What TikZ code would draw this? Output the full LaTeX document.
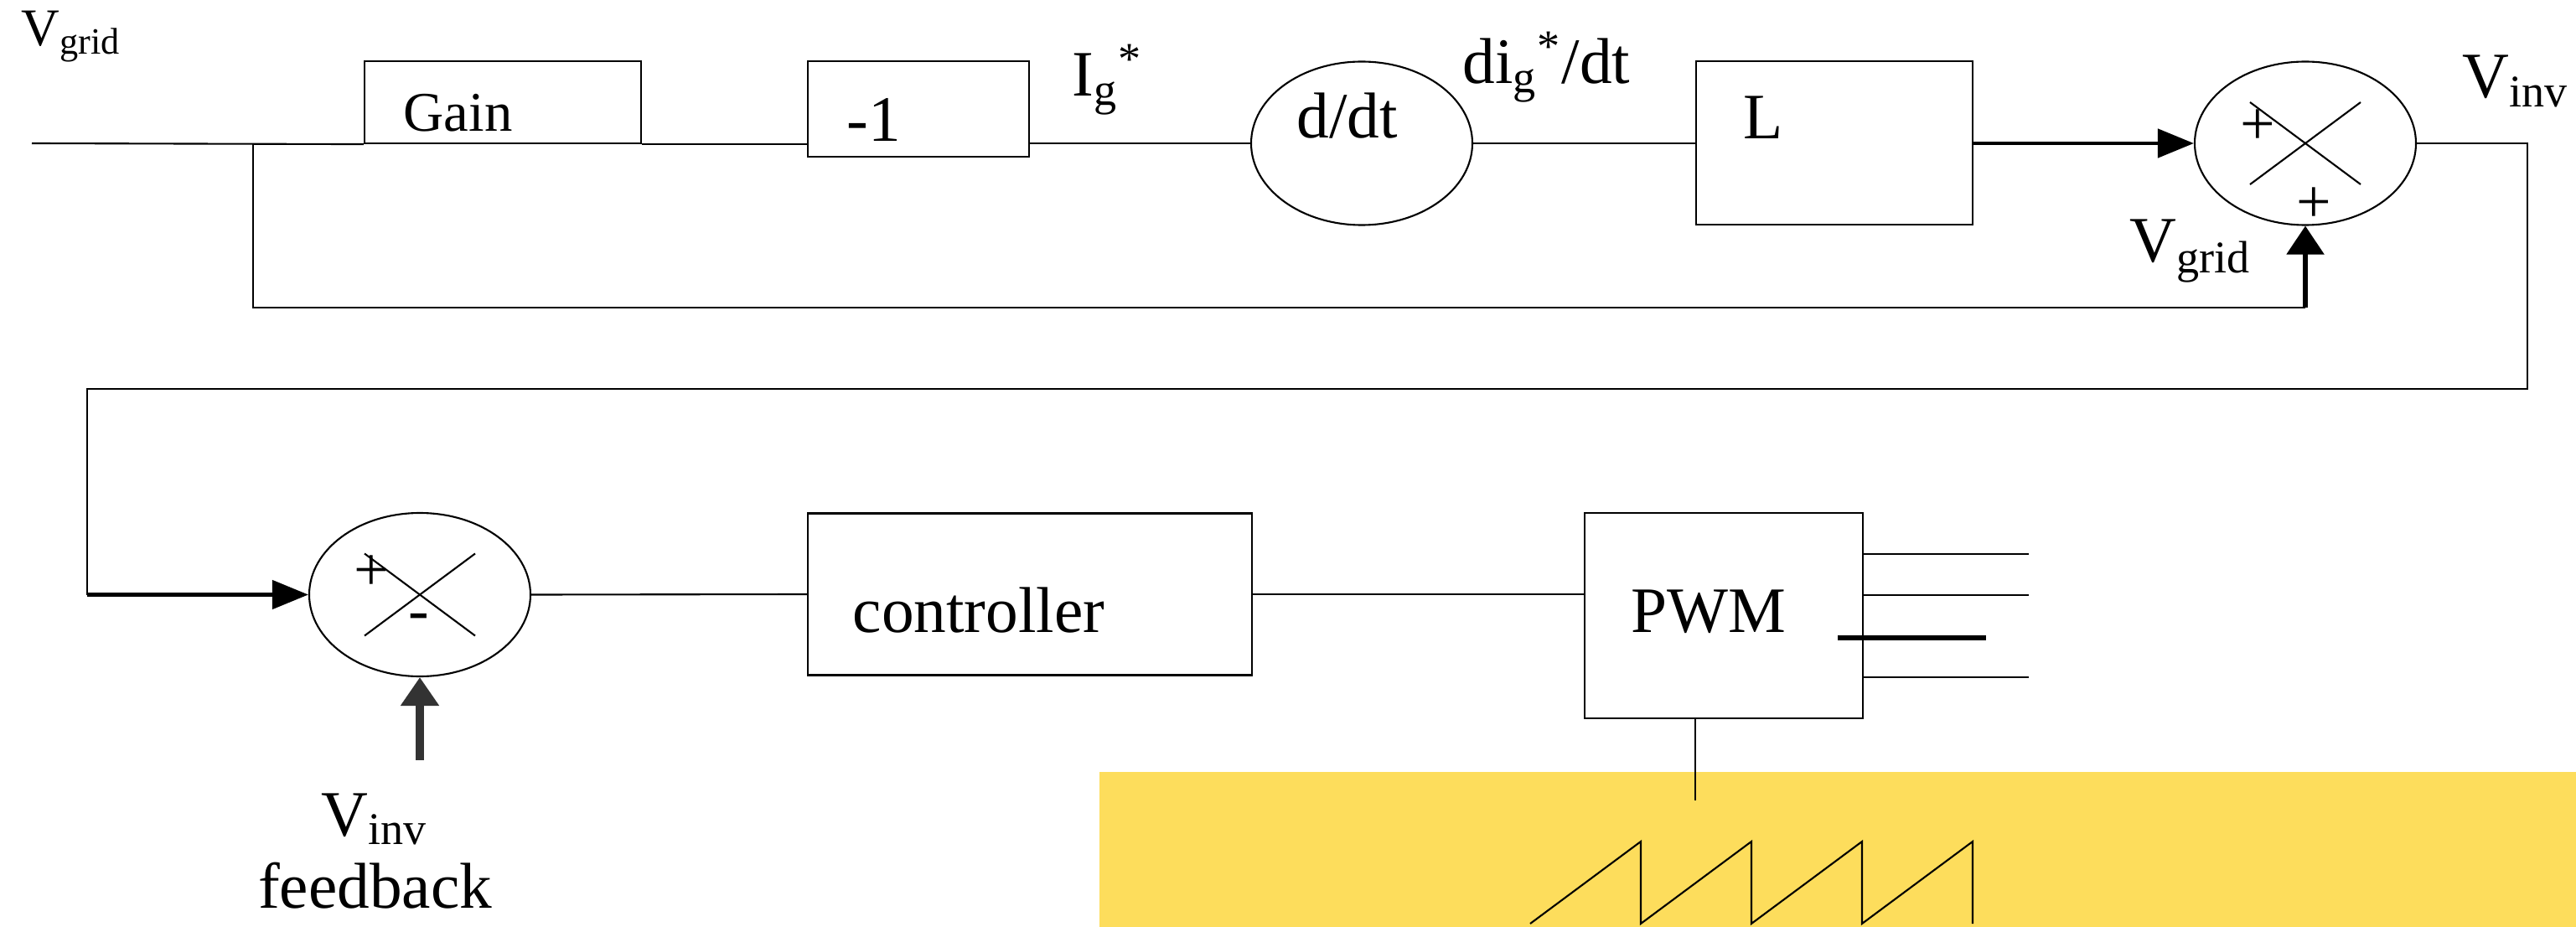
\documentclass[tikz,border=0pt]{standalone}
\usepackage{fontspec}
\setmainfont{Liberation Serif}
\usetikzlibrary{shapes.geometric,arrows.meta}

\begin{document}
\begin{tikzpicture}[
  wire/.style={line width=0.6pt},
  blk/.style={draw,wire,inner sep=0},
  summer/.style={draw,wire,ellipse,minimum width=2.64cm,minimum height=1.95cm,inner sep=0},
  txt/.style={inner sep=0,anchor=base west,font=\fontsize{22}{30}\selectfont},
  sign/.style={inner sep=0,font=\fontsize{21}{24}\selectfont},
  flowarrow/.style={line width=1.3pt,-{Triangle[length=4.3mm,width=3.4mm]}},
  uparrow/.style={line width=1.6pt,-{Triangle[length=3.4mm,width=4.4mm]}}]
\definecolor{sawyellow}{HTML}{FDDD5C}
\useasboundingbox (0,0) rectangle (30.74,-11.06);
\fill[sawyellow] (13.12,-9.21) rectangle (30.74,-11.06);
% blocks
\node[blk,minimum width=3.30cm,minimum height=0.98cm] (gain) at (6.00,-1.22) {};
\node[blk,minimum width=2.64cm,minimum height=1.14cm] (neg) at (10.96,-1.30) {};
\node[summer] (deriv) at (16.25,-1.71) {};
\node[blk,minimum width=3.30cm,minimum height=1.95cm] (ind) at (21.89,-1.705) {};
\node[summer] (sumA) at (27.51,-1.71) {};
\node[summer] (sumB) at (5.01,-7.095) {};
\node[blk,minimum width=5.30cm,minimum height=1.93cm] (ctrl) at (12.29,-7.09) {};
\node[blk,minimum width=3.32cm,minimum height=2.45cm] (pwm) at (20.57,-7.345) {};
% texts
\node[txt,font=\fontsize{18}{22}\selectfont] (vgridin) at (0.25,-0.55) {V\textsubscript{grid}};
\node[txt,font=\fontsize{19}{22}\selectfont] (gaintxt) at (4.81,-1.57) {Gain};
\node[txt] (negtxt) at (10.10,-1.69) {-1};
\node[txt] (igref) at (12.79,-1.15) {I\textsubscript{g}\textsuperscript{*}};
\node[txt] (dtxt) at (15.47,-1.65) {d/dt};
\node[txt] (digref) at (17.45,-1.00) {di\textsubscript{g}\textsuperscript{*}/dt};
\node[txt] (ltxt) at (20.80,-1.66) {L};
\node[txt] (vinvout) at (29.38,-1.17) {V\textsubscript{inv}};
\node[txt] (vgridfb) at (25.41,-3.13) {V\textsubscript{grid}};
\node[txt] (ctrltxt) at (10.17,-7.54) {controller};
\node[txt] (pwmtxt) at (19.46,-7.54) {PWM};
\node[txt,anchor=base] (vinvfb) at (4.47,-9.97) {V\textsubscript{inv}};
\node[txt,anchor=base] (fbtxt) at (4.475,-10.83) {feedback};
% signs
\node[sign] (plusA) at (26.94,-1.52) {+};
\node[sign] (plusB) at (27.61,-2.45) {+};
\node[sign] (plusC) at (4.43,-6.84) {+};
\node[sign,anchor=base] (minusC) at (5.00,-7.52) {-};
\foreach \s in {sumA,sumB}
  {\draw[wire] ([shift={(-0.66,0.49)}]\s.center) -- ([shift={(0.66,-0.49)}]\s.center);
   \draw[wire] ([shift={(-0.66,-0.49)}]\s.center) -- ([shift={(0.66,0.49)}]\s.center);}
% wiring
\coordinate (in) at (0.38,-1.71);
\coordinate (tap) at (3.02,-1.71);
\coordinate (fbk) at (27.51,-3.67);
\coordinate (turnR) at (30.16,-4.64);
\coordinate (turnL) at (1.04,-4.64);
\coordinate (fbsrc) at (5.01,-9.07);
\draw[wire] (in) -- (gain.south west);
\draw[wire] (gain.south east) -- (gain.south east -| neg.west);
\draw[wire] (neg.east |- in) -- (deriv.west);
\draw[wire] (deriv.east) -- (ind.west |- deriv.east);
\draw[flowarrow] (ind.east |- deriv.east) -- (sumA.west);
\draw[wire] (sumA.east) -| (turnR) -- (turnL) -- (turnL |- sumB.west);
\draw[flowarrow] (turnL |- sumB.west) -- (sumB.west);
\draw[wire] (tap) |- (fbk);
\draw[uparrow] (fbk) -- (sumA.south);
\draw[uparrow,line width=2.6pt,black!80] (fbsrc) -- (sumB.south);
\draw[wire] (sumB.east) -- (ctrl.west);
\draw[wire] (ctrl.east) -- (pwm.west |- ctrl.east);
% pwm outputs and carrier
\foreach \dy in {0.735,0.245,-0.735}
  {\draw[wire] ([yshift=\dy cm]pwm.east) -- ++(1.97,0);}
\draw[line width=1.6pt] ([shift={(-0.31,-0.265)}]pwm.east) -- ++(1.77,0);
\draw[wire] ([xshift=-0.34cm]pwm.south) -- ++(0,-0.97);
\draw[wire] (18.26,-11.02) \foreach \i in {1,...,4} { -- ++(1.32,0.98) -- ++(0,-0.98)};
\end{tikzpicture}
\end{document}
